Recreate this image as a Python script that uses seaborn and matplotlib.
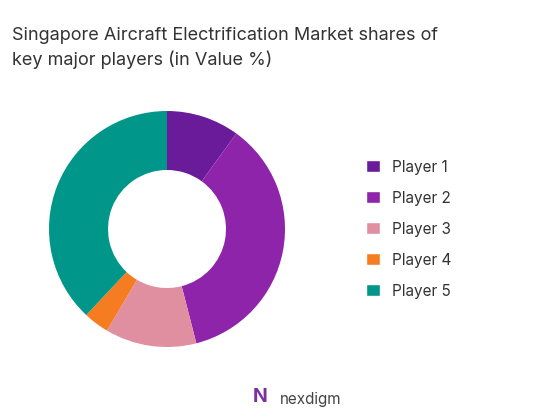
import matplotlib
matplotlib.use("Agg")
import matplotlib.pyplot as plt
import seaborn as sns
from matplotlib.patches import Patch

players = ["Player 1", "Player 2", "Player 3", "Player 4", "Player 5"]
shares = [10, 36, 12.5, 3.5, 38]
colors = ["#6A1B9A", "#8E24AA", "#E08FA0", "#F57C20", "#00968A"]

sns.set_style("white")
plt.rcParams["font.family"] = ["Inter", "DejaVu Sans"]

fig = plt.figure(figsize=(5.59, 4.14), dpi=100)
ax = fig.add_axes([49 / 559, 66 / 414, 236 / 559, 236 / 414])
ax.pie(shares, colors=colors, startangle=90, counterclock=False,
       wedgeprops=dict(width=0.5, edgecolor="none"))
ax.set_xlim(-1, 1)
ax.set_ylim(-1, 1)
ax.set_aspect("equal")

fig.text(0.022, 0.935, "Singapore Aircraft Electrification Market shares of\nkey major players (in Value %)",
         fontsize=13, color="#333333", va="top", linespacing=1.45)

handles = [Patch(facecolor=c, label=p) for c, p in zip(colors, players)]
fig.legend(handles=handles, loc="center left", bbox_to_anchor=(0.63, 0.445),
           frameon=False, fontsize=11, handlelength=0.9, handleheight=0.9,
           labelspacing=1.05, labelcolor="#333333")

fig.text(0.5, 0.035, "nexdigm", fontsize=11, color="#444444", ha="left", va="center")
fig.text(0.465, 0.04, "N", fontsize=14, color="#7B2FA0", ha="center", va="center", fontweight="bold")

fig.savefig("out.png", dpi=100)
